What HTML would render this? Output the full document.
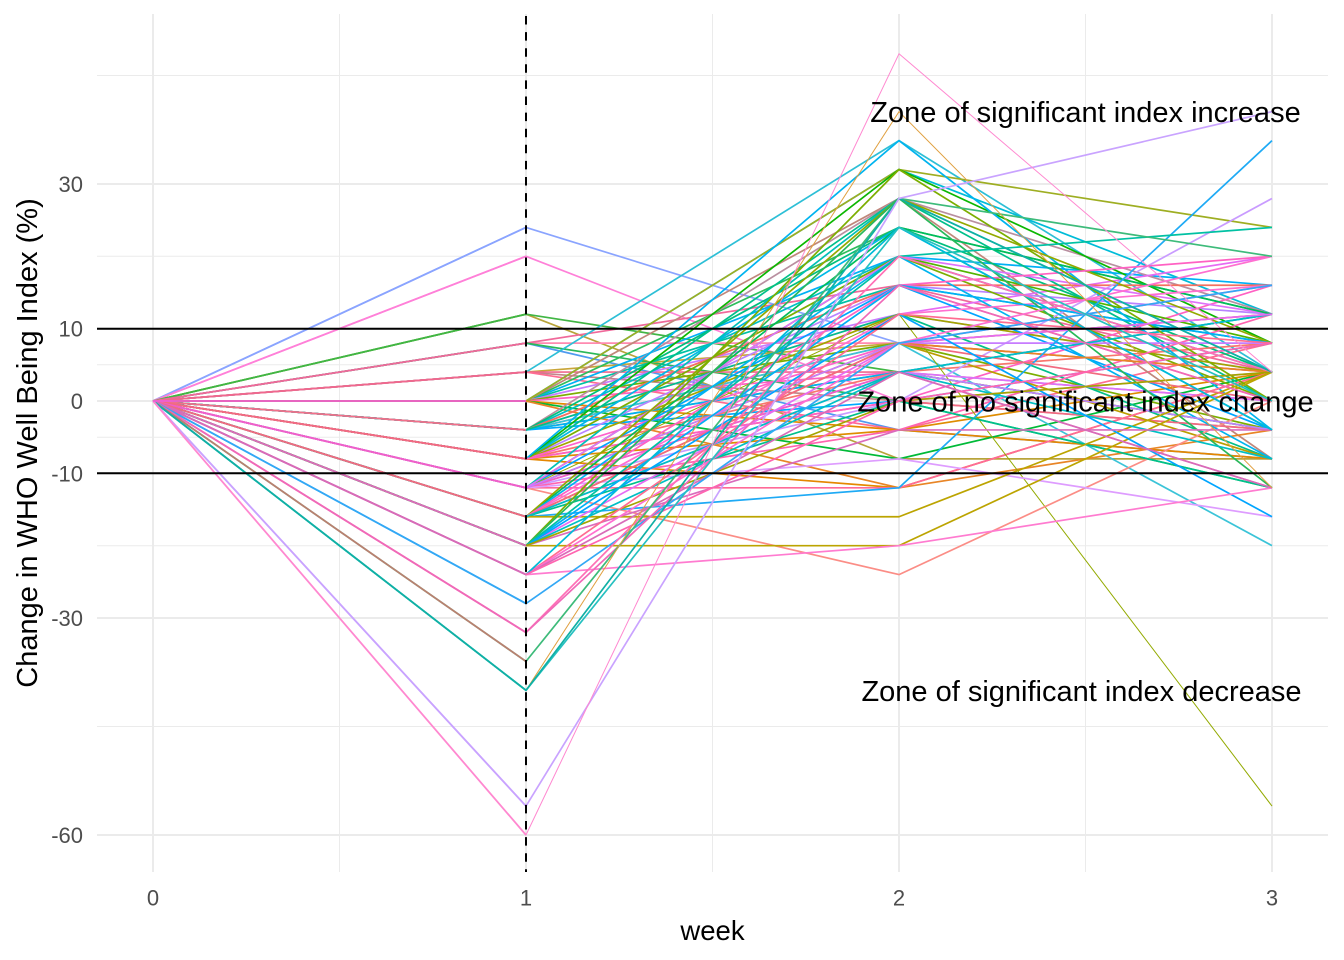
<!DOCTYPE html>
<html>
<head>
<meta charset="utf-8">
<style>
  html, body { margin:0; padding:0; background:#ffffff; }
  body { width:1344px; height:960px; overflow:hidden; }
  svg { display:block; }
  .d polyline { fill:none; vector-effect:non-scaling-stroke; stroke-width:1.7px; stroke-linejoin:round; stroke-linecap:butt; }
  .d polyline.t { stroke-width:1px; }
  .f polyline { fill:none; vector-effect:non-scaling-stroke; stroke-width:1.8px; stroke-linejoin:round; }
  text { font-family:"Liberation Sans", Arial, sans-serif; }
</style>
</head>
<body>
<svg width="1344" height="960" viewBox="0 0 1344 960" xmlns="http://www.w3.org/2000/svg">
  <rect x="0" y="0" width="1344" height="960" fill="#ffffff"/>

  <!-- minor gridlines -->
  <g stroke="#EBEBEB" stroke-width="1" fill="none">
    <line x1="97" x2="1328" y1="75.5" y2="75.5"/>
    <line x1="97" x2="1328" y1="256.3" y2="256.3"/>
    <line x1="97" x2="1328" y1="364.8" y2="364.8"/>
    <line x1="97" x2="1328" y1="437.2" y2="437.2"/>
    <line x1="97" x2="1328" y1="545.7" y2="545.7"/>
    <line x1="97" x2="1328" y1="726.5" y2="726.5"/>
    <line x1="339.5" x2="339.5" y1="14" y2="872"/>
    <line x1="712.5" x2="712.5" y1="14" y2="872"/>
    <line x1="1085.5" x2="1085.5" y1="14" y2="872"/>
  </g>
  <!-- major gridlines -->
  <g stroke="#EBEBEB" stroke-width="2" fill="none">
    <line x1="97" x2="1328" y1="184" y2="184"/>
    <line x1="97" x2="1328" y1="328.7" y2="328.7"/>
    <line x1="97" x2="1328" y1="401" y2="401"/>
    <line x1="97" x2="1328" y1="473.3" y2="473.3"/>
    <line x1="97" x2="1328" y1="618" y2="618"/>
    <line x1="97" x2="1328" y1="835" y2="835"/>
    <line x1="153" x2="153" y1="14" y2="872"/>
    <line x1="526" x2="526" y1="14" y2="872"/>
    <line x1="899" x2="899" y1="14" y2="872"/>
    <line x1="1272" x2="1272" y1="14" y2="872"/>
  </g>

  <!-- data lines in data coordinates: x=week, y=value -->
  <g class="d" transform="matrix(373,0,0,-7.2333,153,401)">
    <polyline points="0,0 1,24 2,8 3,4" stroke="#8AA4FF"/>
    <polyline points="0,0 1,20 2,0 3,4" stroke="#FF80D8"/>
    <polyline points="0,0 1,12 2,-8 3,-8" stroke="#B8A43A"/>
    <polyline points="0,0 1,12 2,4 3,-4" stroke="#41B644"/>
    <polyline points="0,0 1,8 2,8 3,12" stroke="#FF8AB0"/>
    <polyline points="0,0 1,8 2,-4 3,-8" stroke="#4F9BF0"/>
    <polyline points="0,0 1,8 2,16 3,4" stroke="#F0699A"/>
    <polyline points="0,0 1,8 2,0 3,-12" stroke="#2AB85A"/>
    <polyline points="0,0 1,4 2,8 3,12" stroke="#C9A63A"/>
    <polyline points="0,0 1,4 2,0 3,-4" stroke="#C2868A"/>
    <polyline points="0,0 1,4 2,4 3,0" stroke="#F0688E"/>
    <polyline points="0,0 1,4 2,36 3,4" stroke="#2DBFD6"/>
    <polyline points="0,0 1,4 2,-4 3,8" stroke="#FF6C91"/>
    <polyline points="0,0 1,0 2,20 3,16" stroke="#00B0F6"/>
    <polyline points="0,0 1,0 2,16 3,8" stroke="#00C1A3"/>
    <polyline points="0,0 1,0 2,24 3,12" stroke="#2EBD5C"/>
    <polyline points="0,0 1,0 2,12 3,4" stroke="#C77CFF"/>
    <polyline points="0,0 1,0 2,8 3,-4" stroke="#7CAE00"/>
    <polyline points="0,0 1,0 2,32 3,12" stroke="#00BCD8"/>
    <polyline points="0,0 1,0 2,4 3,12" stroke="#FF61C3"/>
    <polyline points="0,0 1,0 2,-4 3,-8" stroke="#E58700"/>
    <polyline points="0,0 1,0 2,28 3,-8" stroke="#C0877A"/>
    <polyline points="0,0 1,0 2,32 3,24" stroke="#9EAE22"/>
    <polyline points="0,0 1,0 2,-8 3,4" stroke="#00BA38"/>
    <polyline points="0,0 1,0 2,-12 3,-4" stroke="#E88526"/>
    <polyline points="0,0 1,-4 2,8 3,4" stroke="#F2707F"/>
    <polyline points="0,0 1,-4 2,20 3,4" stroke="#00BFC4"/>
    <polyline points="0,0 1,-4 2,28 3,12" stroke="#B98FA0"/>
    <polyline points="0,0 1,-4 2,4 3,-4" stroke="#A3A500"/>
    <polyline points="0,0 1,-4 2,12 3,20" stroke="#E76BF3"/>
    <polyline points="0,0 1,-4 2,0 3,8" stroke="#00A9FF"/>
    <polyline points="0,0 1,-4 2,16 3,0" stroke="#FF68A1"/>
    <polyline points="0,0 1,-4 2,24 3,4" stroke="#00BF7D"/>
    <polyline points="0,0 1,-4 2,8 3,-20" stroke="#3BC4D8"/>
    <polyline points="0,0 1,-4 2,16 3,16" stroke="#F4705F"/>
    <polyline points="0,0 1,-4 2,4 3,12" stroke="#00B0F6"/>
    <polyline points="0,0 1,-4 2,12 3,-8" stroke="#00C08B"/>
    <polyline points="0,0 1,-8 2,4 3,8" stroke="#F8766D"/>
    <polyline points="0,0 1,-8 2,28 3,0" stroke="#00C08B"/>
    <polyline points="0,0 1,-8 2,16 3,12" stroke="#B983FF"/>
    <polyline points="0,0 1,-8 2,12 3,4" stroke="#A3A500"/>
    <polyline points="0,0 1,-8 2,24 3,-4" stroke="#00B8E7"/>
    <polyline points="0,0 1,-8 2,8 3,16" stroke="#FF61CC"/>
    <polyline points="0,0 1,-8 2,20 3,0" stroke="#7CAE00"/>
    <polyline points="0,0 1,-8 2,-4 3,4" stroke="#DE8C00"/>
    <polyline points="0,0 1,-8 2,32 3,8" stroke="#0CB702"/>
    <polyline points="0,0 1,-8 2,36 3,-4" stroke="#00B4EF"/>
    <polyline points="0,0 1,-8 2,-12 3,4" stroke="#E58700"/>
    <polyline points="0,0 1,-8 2,0 3,-4" stroke="#F26A82"/>
    <polyline points="0,0 1,-8 2,0 3,16" stroke="#FF61C3"/>
    <polyline points="0,0 1,-12 2,16 3,-4" stroke="#00A5FF"/>
    <polyline points="0,0 1,-12 2,4 3,0" stroke="#DB72FB"/>
    <polyline points="0,0 1,-12 2,28 3,4" stroke="#00C0B8"/>
    <polyline points="0,0 1,-12 2,8 3,-8" stroke="#BB9D00"/>
    <polyline points="0,0 1,-12 2,-12 3,4" stroke="#FF6A98"/>
    <polyline points="0,0 1,-12 2,20 3,8" stroke="#53B400"/>
    <polyline class="t" points="0,0 1,-12 2,12 3,-56" stroke="#93AA00"/>
    <polyline points="0,0 1,-12 2,-24 3,0" stroke="#FB8D86"/>
    <polyline points="0,0 1,-12 2,0 3,28" stroke="#C99BFF"/>
    <polyline points="0,0 1,-12 2,-4 3,12" stroke="#FF64B0"/>
    <polyline points="0,0 1,-12 2,-8 3,-16" stroke="#DE9CFF"/>
    <polyline points="0,0 1,-12 2,4 3,-12" stroke="#F060C8"/>
    <polyline points="0,0 1,-12 2,8 3,8" stroke="#C77CFF"/>
    <polyline points="0,0 1,-12 2,20 3,12" stroke="#DE72F9"/>
    <polyline points="0,0 1,-16 2,24 3,12" stroke="#00BD5C"/>
    <polyline points="0,0 1,-16 2,20 3,-8" stroke="#00B4EF"/>
    <polyline points="0,0 1,-16 2,8 3,4" stroke="#E88526"/>
    <polyline points="0,0 1,-16 2,12 3,16" stroke="#FF6FD0"/>
    <polyline points="0,0 1,-16 2,-12 3,36" stroke="#1EAAF5"/>
    <polyline points="0,0 1,-16 2,28 3,8" stroke="#94A900"/>
    <polyline points="0,0 1,-16 2,4 3,-4" stroke="#B983FF"/>
    <polyline points="0,0 1,-16 2,16 3,20" stroke="#FF61C3"/>
    <polyline points="0,0 1,-16 2,0 3,-12" stroke="#00C08B"/>
    <polyline points="0,0 1,-16 2,-16 3,4" stroke="#BCA400"/>
    <polyline points="0,0 1,-16 2,8 3,0" stroke="#F26A80"/>
    <polyline points="0,0 1,-16 2,4 3,12" stroke="#00BFC4"/>
    <polyline points="0,0 1,-20 2,16 3,8" stroke="#00B0F6"/>
    <polyline points="0,0 1,-20 2,32 3,0" stroke="#7CAE00"/>
    <polyline points="0,0 1,-20 2,8 3,12" stroke="#E76BF3"/>
    <polyline points="0,0 1,-20 2,28 3,-12" stroke="#2AB85A"/>
    <polyline points="0,0 1,-20 2,4 3,-8" stroke="#00BFC4"/>
    <polyline points="0,0 1,-20 2,-20 3,4" stroke="#BCA400"/>
    <polyline points="0,0 1,-20 2,20 3,24" stroke="#00C1A3"/>
    <polyline points="0,0 1,-20 2,12 3,-16" stroke="#00A5FF"/>
    <polyline points="0,0 1,-20 2,-4 3,-4" stroke="#DA6CBC"/>
    <polyline points="0,0 1,-20 2,0 3,4" stroke="#A3A500"/>
    <polyline points="0,0 1,-24 2,12 3,8" stroke="#FF6C91"/>
    <polyline points="0,0 1,-24 2,-20 3,-12" stroke="#FF7BD0"/>
    <polyline points="0,0 1,-24 2,8 3,20" stroke="#FF6FD0"/>
    <polyline points="0,0 1,-24 2,24 3,-4" stroke="#00BCD8"/>
    <polyline points="0,0 1,-24 2,4 3,-12" stroke="#D86CB8"/>
    <polyline points="0,0 1,-24 2,0 3,8" stroke="#FF64B0"/>
    <polyline points="0,0 1,-28 2,8 3,16" stroke="#33A8F5"/>
    <polyline points="0,0 1,-32 2,20 3,4" stroke="#FF6FB5"/>
    <polyline points="0,0 1,-32 2,16 3,0" stroke="#F06AB8"/>
    <polyline points="0,0 1,-36 2,28 3,20" stroke="#3DBB7A"/>
    <polyline class="t" points="0,0 1,-40 2,40 3,-12" stroke="#E0A040"/>
    <polyline points="0,0 1,-40 2,24 3,0" stroke="#25C0C0"/>
    <polyline points="0,0 1,-40 2,28 3,4" stroke="#10B0A5"/>
    <polyline points="0,0 1,-56 2,28 3,40" stroke="#C9A3FF"/>
    <polyline class="t" points="0,0 1,-60 2,48 3,4" stroke="#FF88D0"/>
  </g>

  <!-- fan overlays (week 0 to week 1 top colours) -->
  <g class="f" transform="matrix(373,0,0,-7.2333,153,401)">
    <polyline points="0,0 1,24" stroke="#8AA4FF"/>
    <polyline points="0,0 1,20" stroke="#FF80D8"/>
    <polyline points="0,0 1,12" stroke="#41B644"/>
    <polyline points="0,0 1,8" stroke="#F0699A"/>
    <polyline points="0,0 1,4" stroke="#F0688E"/>
    <polyline points="0,0 1,-4" stroke="#F0708A"/>
    <polyline points="0,0 1,-8" stroke="#F26A82"/>
    <polyline points="0,0 1,-12" stroke="#F060C8"/>
    <polyline points="0,0 1,-16" stroke="#F26A80"/>
    <polyline points="0,0 1,-20" stroke="#DA6CBC"/>
    <polyline points="0,0 1,-24" stroke="#D86CB8"/>
    <polyline points="0,0 1,-28" stroke="#33A8F5"/>
    <polyline points="0,0 1,-32" stroke="#F06AB8"/>
    <polyline points="0,0 1,-36" stroke="#B98070"/>
    <polyline points="0,0 1,-40" stroke="#10B0A5"/>
    <polyline points="0,0 1,-56" stroke="#C9A3FF"/>
    <polyline points="0,0 1,-60" stroke="#FF88D0"/>
    <polyline points="0,0 1,0" stroke="#EE5FD6"/>
  </g>

  <!-- reference lines -->
  <line x1="97" x2="1328" y1="328.7" y2="328.7" stroke="#000" stroke-width="2"/>
  <line x1="97" x2="1328" y1="473.3" y2="473.3" stroke="#000" stroke-width="2"/>
  <line x1="526" x2="526" y1="16" y2="872" stroke="#000" stroke-width="2" stroke-dasharray="8.5 7.6"/>

  <!-- annotations -->
  <g font-size="29" fill="#000" text-anchor="middle">
    <text x="1085.5" y="122">Zone of significant index increase</text>
    <text x="1085.5" y="411.5">Zone of no significant index change</text>
    <text x="1081.5" y="701">Zone of significant index decrease</text>
  </g>

  <!-- y tick labels -->
  <g font-size="22" fill="#4D4D4D" text-anchor="end">
    <text x="83" y="192">30</text>
    <text x="83" y="336.7">10</text>
    <text x="83" y="409">0</text>
    <text x="83" y="481.3">-10</text>
    <text x="83" y="626">-30</text>
    <text x="83" y="843">-60</text>
  </g>
  <!-- x tick labels -->
  <g font-size="22" fill="#4D4D4D" text-anchor="middle">
    <text x="153" y="905.5">0</text>
    <text x="526" y="905.5">1</text>
    <text x="899" y="905.5">2</text>
    <text x="1272" y="905.5">3</text>
  </g>

  <!-- axis titles -->
  <text x="712.5" y="940" font-size="27.5" fill="#000" text-anchor="middle">week</text>
  <text x="37" y="443" font-size="29" fill="#000" text-anchor="middle" transform="rotate(-90 37 443)">Change in WHO Well Being Index (%)</text>
</svg>
</body>
</html>
